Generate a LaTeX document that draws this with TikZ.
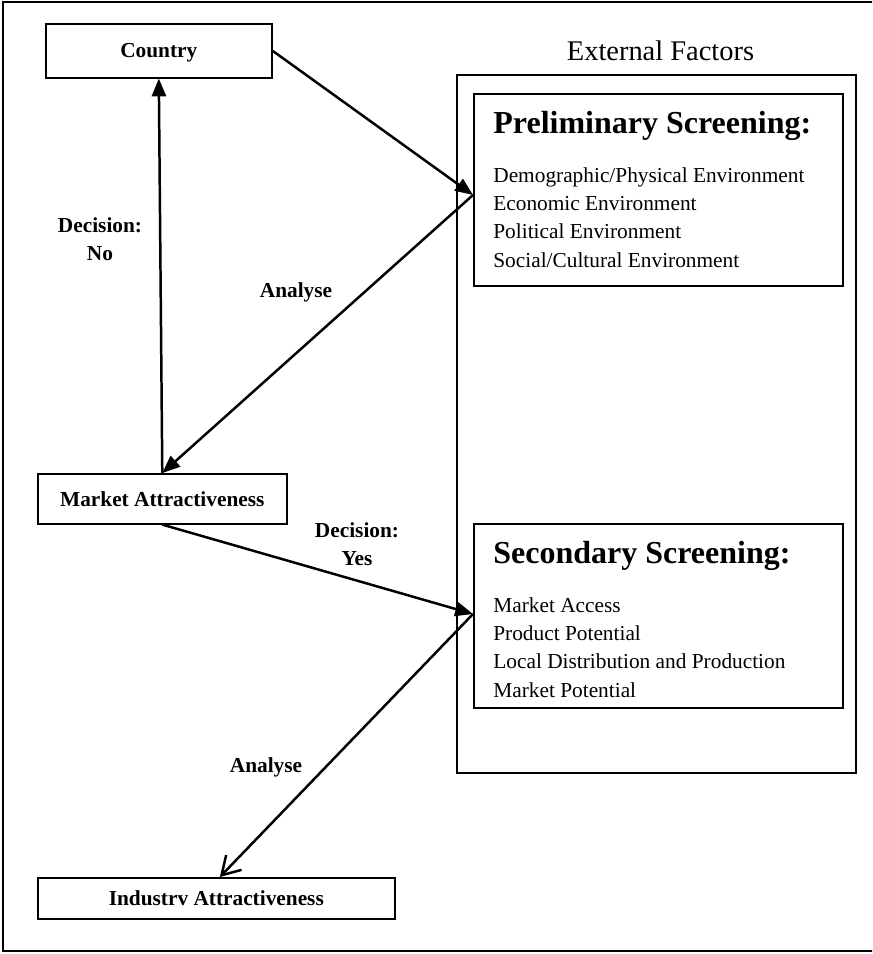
\documentclass[tikz,border=0pt]{standalone}
\usepackage{fontspec}
\setmainfont{Liberation Serif}
\usetikzlibrary{arrows.meta}
\begin{document}
\begin{tikzpicture}[x=0.5625pt,y=-0.5625pt,
  box/.style={draw,line width=0.9pt,inner sep=0pt,anchor=north west},
  lbl/.style={font=\bfseries\fontsize{12}{15.75}\selectfont,align=center,inner sep=0pt},
  item/.style={font=\fontsize{12}{14}\selectfont,anchor=base west,inner sep=0pt},
  head/.style={font=\bfseries\fontsize{18}{20}\selectfont,anchor=base west,inner sep=0pt},
  conn/.style={line width=1.4pt},
  solidtip/.style={conn,-{Triangle[length=10pt,width=8pt]}},
  opentip/.style={conn,-{Straight Barb[length=10pt,width=12pt,line width=1.4pt]}}]
\useasboundingbox (0,0) rectangle (872,954);
\begin{scope}
\clip (0,0) rectangle (872,954);
% frame around the whole figure
\draw[line width=0.9pt] (3,2) rectangle (890,951);
\end{scope}

% left-hand chain of boxes
\node[box,minimum width=226*0.5625pt,minimum height=54*0.5625pt] (country) at (45,23) {};
\node[lbl] at ([yshift=-1pt]country.center) {Country};
\node[box,minimum width=249*0.5625pt,minimum height=50*0.5625pt] (market) at (37,473) {};
\node[lbl] at (market.center) {Market Attractiveness};
\node[box,minimum width=357*0.5625pt,minimum height=41*0.5625pt] (industry) at (37,877) {};
\node[lbl] at (industry.center) {Industrv Attractiveness};

% external factors panel
\node[font=\fontsize{16}{18}\selectfont,anchor=base,inner sep=0pt] (exttitle) at (660.5,60) {External Factors};
\node[box,minimum width=399*0.5625pt,minimum height=698*0.5625pt] (ext) at (456,74) {};

\node[box,minimum width=369*0.5625pt,minimum height=192*0.5625pt] (prelim) at (473,93) {};
\node[head] (ph) at (493,133) {Preliminary Screening:};
\node[item] (p1) at (493,182) {Demographic/Physical Environment};
\node[item] (p2) at (493,210.3) {Economic Environment};
\node[item] (p3) at (493,238.7) {Political Environment};
\node[item] (p4) at (493,267) {Social/Cultural Environment};

\node[box,minimum width=369*0.5625pt,minimum height=184*0.5625pt] (second) at (473,523) {};
\node[head] (sh) at (493,563) {Secondary Screening:};
\node[item] (s1) at (493,612) {Market Access};
\node[item] (s2) at (493,640) {Product Potential};
\node[item] (s3) at (493,668) {Local Distribution and Production};
\node[item] (s4) at (493,697) {Market Potential};

% connector end points on the screening boxes
\coordinate (pin) at (473,195);
\coordinate (sin) at (473,614);

% connectors
\draw[solidtip] (country.east) -- (pin);
\draw[solidtip] (pin) -- (market.north);
\draw[solidtip] (market.north) -- (country.south);
\draw[solidtip] (market.south) -- (sin);
\draw[opentip] (sin) -- ([xshift=2pt]industry.north);

% connector labels
\node[lbl] (lno) at (100,239) {Decision:\\No};
\node[lbl] (lan1) at (296,292) {Analyse};
\node[lbl] (lyes) at (357,544) {Decision:\\Yes};
\node[lbl] (lan2) at (266,767) {Analyse};
\end{tikzpicture}
\end{document}
